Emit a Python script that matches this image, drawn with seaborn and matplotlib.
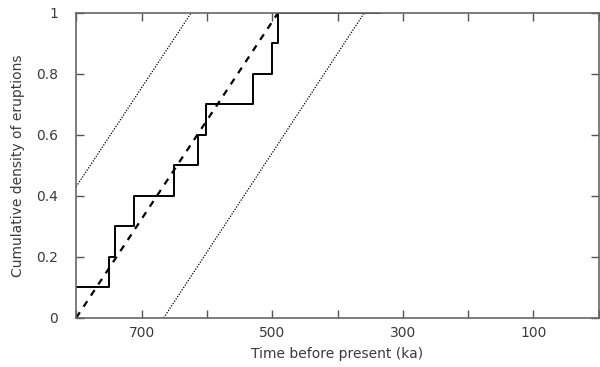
import matplotlib
matplotlib.use("Agg")
import matplotlib.pyplot as plt
import seaborn as sns
import pandas as pd
import numpy as np

# Empirical cumulative density of eruptions (ka before present)
step_age = [800, 750, 741, 711, 650, 614, 601, 530, 501, 491, 335]
step_density = [0.1, 0.2, 0.3, 0.4, 0.5, 0.6, 0.7, 0.8, 0.9, 1.0, 1.0]

# Linear fit (dashed)
fit_age = [800, 491]
fit_density = [0.0, 1.0]

# Confidence bounds (dotted)
upper_age = [800, 624]
upper_density = [0.43, 1.0]
lower_age = [666, 359]
lower_density = [0.0, 1.0]

x_ticks = [800, 700, 600, 500, 400, 300, 200, 100, 0]
x_ticklabels = ["", "700", "", "500", "", "300", "", "100", ""]
y_ticks = [0, 0.2, 0.4, 0.6, 0.8, 1.0]
y_ticklabels = ["0", "0.2", "0.4", "0.6", "0.8", "1"]

sns.set_theme(style="white")
plt.rcParams["font.family"] = ["DejaVu Sans"]

fig = plt.figure(figsize=(6.0, 3.67), dpi=100)
ax = fig.add_axes([0.127, 0.134, 0.871, 0.831])

step_df = pd.DataFrame({"age": step_age, "density": step_density})
sns.lineplot(data=step_df, x="age", y="density", sort=False, estimator=None,
             drawstyle="steps-post", color="black", linewidth=1.4, ax=ax)

fit_df = pd.DataFrame({"age": fit_age, "density": fit_density})
sns.lineplot(data=fit_df, x="age", y="density", sort=False, estimator=None,
             color="black", linewidth=1.6, linestyle=(0, (3, 3)), ax=ax)

for a, d in [(upper_age, upper_density), (lower_age, lower_density)]:
    df = pd.DataFrame({"age": a, "density": d})
    sns.lineplot(data=df, x="age", y="density", sort=False, estimator=None,
                 color="black", linewidth=0.9, linestyle=(0, (1, 1.2)), ax=ax)

ax.set_xlim(800, 0)
ax.set_ylim(0, 1)
ax.set_xticks(x_ticks)
ax.set_xticklabels(x_ticklabels)
ax.set_yticks(y_ticks)
ax.set_yticklabels(y_ticklabels)

text_color = "#3a3a3a"
ax.tick_params(axis="both", direction="in", length=6, width=1, color="#555555",
               labelsize=10, labelcolor=text_color, top=True, right=True,
               bottom=True, left=True)
ax.tick_params(axis="x", pad=6)
ax.tick_params(axis="y", pad=13)
for s in ax.spines.values():
    s.set_color("#666666")
    s.set_linewidth(1.2)

ax.set_xlabel("Time before present (ka)", fontsize=10, color=text_color, labelpad=5)
ax.set_ylabel("Cumulative density of eruptions", fontsize=10, color=text_color, labelpad=8)
ax.grid(False)

fig.savefig("out.png", dpi=100)
